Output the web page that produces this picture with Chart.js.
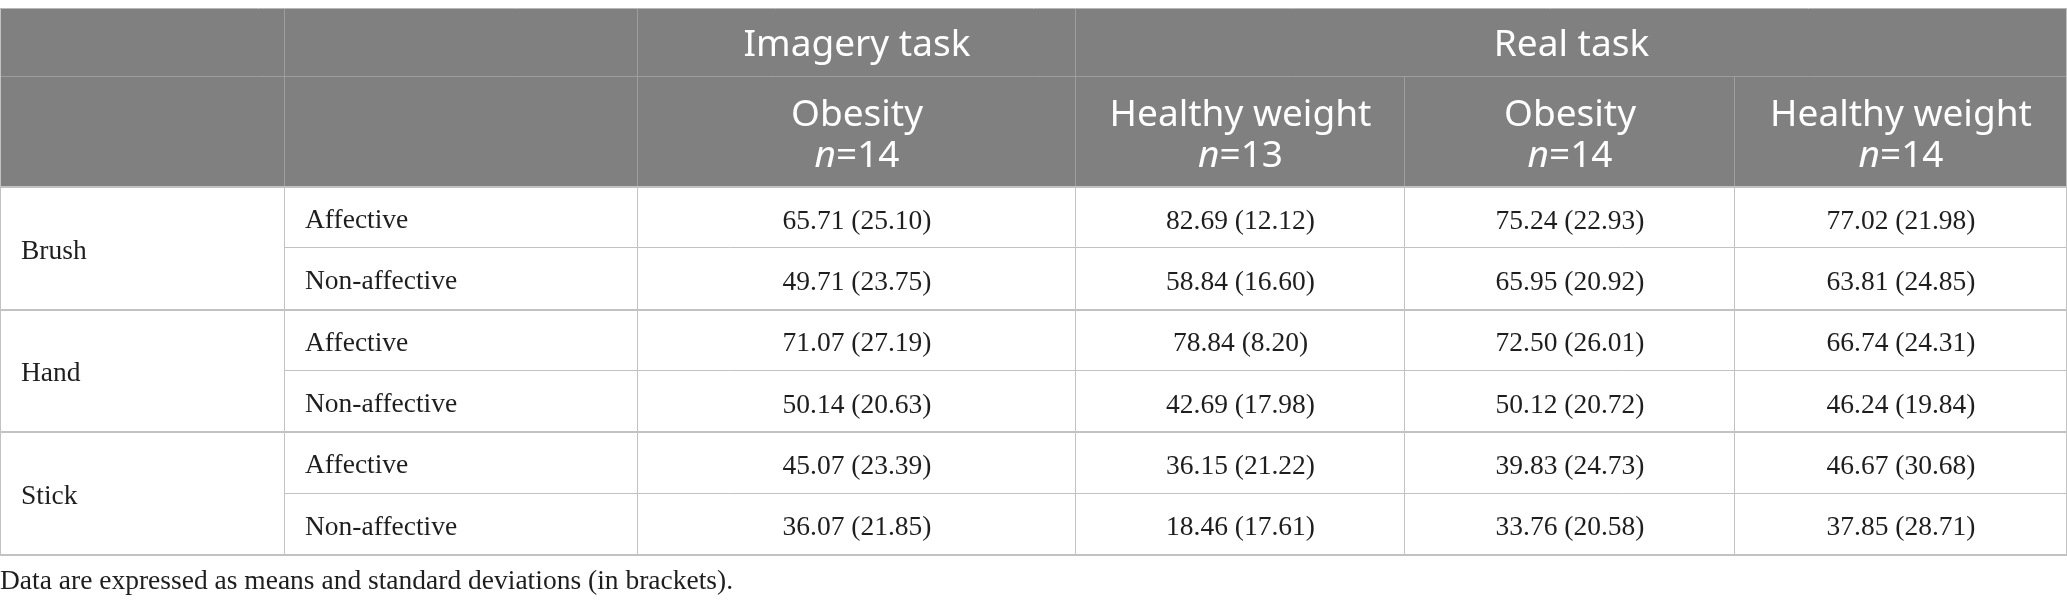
<!DOCTYPE html>
<html>
<head>
<meta charset="utf-8">
<script src="https://cdn.jsdelivr.net/npm/chart.js@4.4.1/dist/chart.umd.min.js"></script>
<style>
  html, body { margin: 0; padding: 0; background: #ffffff; }
  #wrap { width: 2067px; height: 612px; position: relative; }
</style>
</head>
<body>
<div id="wrap"><canvas id="c"></canvas></div>
<script>
// ---------- data ----------
const stimuli = ['Brush', 'Hand', 'Stick'];
const touchTypes = ['Affective', 'Non-affective'];
const tasks = ['Imagery task', 'Real task'];
const groups = ['Obesity', 'Healthy weight', 'Obesity', 'Healthy weight'];
const groupN = [14, 13, 14, 14];

// rows: Brush-Aff, Brush-NonAff, Hand-Aff, Hand-NonAff, Stick-Aff, Stick-NonAff
const imageryObesityMean = [65.71, 49.71, 71.07, 50.14, 45.07, 36.07];
const imageryObesitySD   = [25.10, 23.75, 27.19, 20.63, 23.39, 21.85];
const imageryHealthyMean = [82.69, 58.84, 78.84, 42.69, 36.15, 18.46];
const imageryHealthySD   = [12.12, 16.60, 8.20, 17.98, 21.22, 17.61];
const realObesityMean    = [75.24, 65.95, 72.50, 50.12, 39.83, 33.76];
const realObesitySD      = [22.93, 20.92, 26.01, 20.72, 24.73, 20.58];
const realHealthyMean    = [77.02, 63.81, 66.74, 46.24, 46.67, 37.85];
const realHealthySD      = [21.98, 24.85, 24.31, 19.84, 30.68, 28.71];

const footnote = 'Data are expressed as means and standard deviations (in brackets).';

// ---------- layout / style ----------
const colWidths = [285, 353, 438, 329, 330, 332];
const headRowHeights = [68, 110];
const bodyRowHeight = 61.33;
const taskSpans = [[2, 3], [3, 6]];   // column ranges covered by each task header
const headerBg = '#7f807f';
const headerLine = '#9d9e9d';
const bodyLine = '#c2c2c2';
const bodyColor = '#1e1e1e';
const headFont = '"Noto Sans", "Open Sans", sans-serif';
const bodyFont = '"Liberation Serif", "DejaVu Serif", serif';
const headSize = 37;
const bodySize = 27.5;

const meanCols = [imageryObesityMean, imageryHealthyMean, realObesityMean, realHealthyMean];
const sdCols = [imageryObesitySD, imageryHealthySD, realObesitySD, realHealthySD];

const colEdges = [0];
colWidths.forEach(w => colEdges.push(colEdges[colEdges.length - 1] + w));
const headTotal = headRowHeights[0] + headRowHeights[1];
const nBody = stimuli.length * touchTypes.length;
const tableHeight = headTotal + nBody * bodyRowHeight;
const rowTop = r => headTotal + r * bodyRowHeight;

const datasets = meanCols.map((means, ci) => ({
  label: groups[ci],
  data: means.map((m, r) => ({
    x: colEdges[ci + 2] + colWidths[ci + 2] / 2,
    y: rowTop(r) + bodyRowHeight / 2,
    mean: m,
    sd: sdCols[ci][r]
  })),
  pointRadius: 0,
  pointHoverRadius: 0,
  showLine: false
}));

function crisp(v, w) { return w % 2 === 1 ? Math.round(v) - 0.5 : Math.round(v); }

const tablePlugin = {
  id: 'tablePlugin',
  beforeDatasetsDraw(chart) {
    const ctx = chart.ctx;
    const xs = chart.scales.x, ys = chart.scales.y;
    const X = v => xs.getPixelForValue(v);
    const Y = v => ys.getPixelForValue(v);
    const left = X(0), right = X(colEdges[colEdges.length - 1]);
    const top = Y(0), headBottom = Y(headTotal), bottom = Y(tableHeight);
    const rowSplit = Y(headRowHeights[0]);

    function hline(y, x1, x2, color, w) {
      ctx.save(); ctx.strokeStyle = color; ctx.lineWidth = w;
      ctx.beginPath(); const yy = crisp(y, w);
      ctx.moveTo(x1, yy); ctx.lineTo(x2, yy); ctx.stroke(); ctx.restore();
    }
    function vline(x, y1, y2, color, w) {
      ctx.save(); ctx.strokeStyle = color; ctx.lineWidth = w;
      ctx.beginPath(); const xx = crisp(x, w);
      ctx.moveTo(xx, y1); ctx.lineTo(xx, y2); ctx.stroke(); ctx.restore();
    }

    // header background
    ctx.save();
    ctx.fillStyle = headerBg;
    ctx.fillRect(left, top, right - left, headBottom - top);
    ctx.restore();

    // header grid
    hline(rowSplit, left, right, headerLine, 1);
    [1, 2, 3].forEach(i => vline(X(colEdges[i]), top, rowSplit, headerLine, 1));
    [1, 2, 3, 4, 5].forEach(i => vline(X(colEdges[i]), rowSplit, headBottom, headerLine, 1));

    // body grid
    for (let i = 1; i <= 5; i++) vline(X(colEdges[i]), headBottom, bottom, bodyLine, 1);
    for (let r = 1; r < nBody; r++) {
      if (r % touchTypes.length === 0) hline(Y(rowTop(r)), left, right, bodyLine, 2);
      else hline(Y(rowTop(r)), X(colEdges[1]), right, bodyLine, 1);
    }
    hline(headBottom, left, right, bodyLine, 2);
    hline(bottom, left, right, bodyLine, 2);
    hline(top, left, right, '#b8b8b8', 1);
    vline(left + 1, top, bottom, bodyLine, 1);
    vline(right, top, bottom, bodyLine, 1);

    // header text
    ctx.save();
    ctx.fillStyle = '#ffffff';
    ctx.textBaseline = 'alphabetic';
    ctx.textAlign = 'center';
    ctx.font = headSize + 'px ' + headFont;
    const r1mid = (top + rowSplit) / 2;
    tasks.forEach((t, i) => {
      const cx = (X(colEdges[taskSpans[i][0]]) + X(colEdges[taskSpans[i][1]])) / 2;
      ctx.fillText(t, cx, r1mid + headSize * 0.36);
    });
    const r2mid = (rowSplit + headBottom) / 2;
    groups.forEach((g, i) => {
      const cx = (X(colEdges[i + 2]) + X(colEdges[i + 3])) / 2;
      ctx.textAlign = 'center';
      ctx.font = headSize + 'px ' + headFont;
      ctx.fillText(g, cx, r2mid - 6);
      // n=..
      ctx.textAlign = 'left';
      ctx.font = 'italic ' + headSize + 'px ' + headFont;
      const wn = ctx.measureText('n').width;
      ctx.font = headSize + 'px ' + headFont;
      const rest = '=' + groupN[i];
      const wr = ctx.measureText(rest).width;
      const sx = cx - (wn + wr) / 2;
      ctx.font = 'italic ' + headSize + 'px ' + headFont;
      ctx.fillText('n', sx, r2mid + 35);
      ctx.font = headSize + 'px ' + headFont;
      ctx.fillText(rest, sx + wn, r2mid + 35);
    });
    ctx.restore();

    // body labels
    ctx.save();
    ctx.fillStyle = bodyColor;
    ctx.textBaseline = 'alphabetic';
    ctx.textAlign = 'left';
    ctx.font = bodySize + 'px ' + bodyFont;
    stimuli.forEach((s, si) => {
      const y0 = Y(rowTop(si * 2)), y1 = Y(rowTop(si * 2 + 2));
      ctx.fillText(s, X(colEdges[0]) + 21, (y0 + y1) / 2 + bodySize * 0.38);
      touchTypes.forEach((t, ti) => {
        const r = si * 2 + ti;
        const ym = (Y(rowTop(r)) + Y(rowTop(r + 1))) / 2;
        ctx.fillText(t, X(colEdges[1]) + 20, ym + bodySize * 0.38);
      });
    });
    // values via dataset elements
    ctx.textAlign = 'center';
    chart.data.datasets.forEach((ds, di) => {
      const meta = chart.getDatasetMeta(di);
      meta.data.forEach((el, i) => {
        const d = ds.data[i];
        ctx.fillText(d.mean.toFixed(2) + ' (' + d.sd.toFixed(2) + ')', el.x, el.y + bodySize * 0.4);
      });
    });
    // footnote
    ctx.textAlign = 'left';
    ctx.fillText(footnote, left, bottom + 34);
    ctx.restore();
  }
};

new Chart(document.getElementById('c'), {
  type: 'scatter',
  data: { datasets },
  options: {
    responsive: true,
    maintainAspectRatio: false,
    animation: false,
    events: [],
    layout: { padding: { top: 9, bottom: 57, left: 0, right: 0 } },
    plugins: { legend: { display: false }, tooltip: { enabled: false } },
    scales: {
      x: { type: 'linear', min: 0, max: colEdges[colEdges.length - 1], display: false },
      y: { type: 'linear', min: 0, max: tableHeight, reverse: true, display: false }
    }
  },
  plugins: [tablePlugin]
});
</script>
</body>
</html>
